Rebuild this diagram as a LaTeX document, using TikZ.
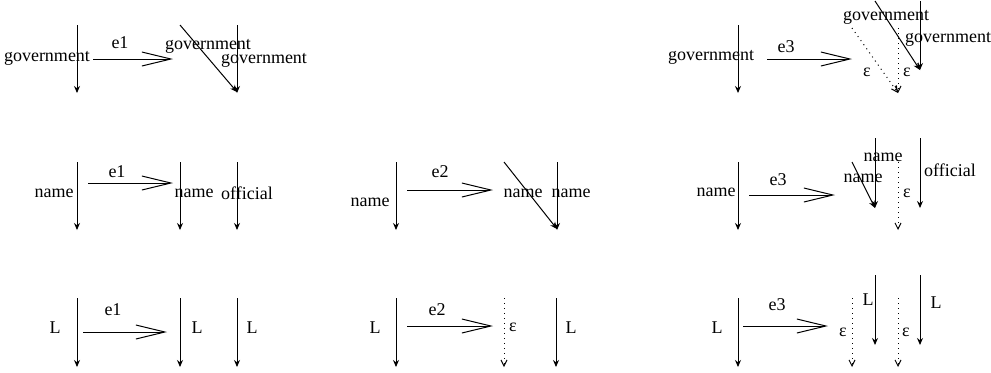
\documentclass[tikz,border=0pt]{standalone}
\usepackage{fontspec}
\setmainfont{Liberation Serif}
\usepackage{tikz}
\usetikzlibrary{arrows.meta}
\usetikzlibrary{positioning}
\tikzstyle{trace} = [-{Stealth[length=3.5pt, width=3pt]}, line width=0.5pt]
\tikzstyle{hole} = [dotted, -{Straight Barb[length=3pt, width=3pt]}, line width=0.5pt]
\tikzstyle{xfer} = [-{Straight Barb[length=14.5pt, width=7pt]}, line width=0.5pt]
\tikzstyle{lbl} = [draw=none, inner sep = 0]

\begin{document}
\begin{tikzpicture}[x=0.5pt, y=-0.5pt, font=\fontsize{9}{11}\selectfont]
\useasboundingbox (0,0) rectangle (991,372);
%% row 1: government
\node [lbl] (gA1) at (47, 58) {government};
\node [lbl] (gA2) at (208, 46) {government};
\node [lbl] (gA3) at (264, 60) {government};
\node [lbl] (eA1) at (120, 43) {e1};
\coordinate (a1s) at (77, 25);  \coordinate (a1e) at (77, 93);
\coordinate (a1x) at (93, 59);  \coordinate (a1y) at (173, 59);
\coordinate (a1d) at (180, 25); \coordinate (a1f) at (237, 92);
\coordinate (a1u) at (237, 25); \coordinate (a1v) at (237, 93);
\draw [trace] (a1s) to (a1e);
\draw [xfer] (a1x) to (a1y);
\draw [trace] (a1d) to (a1f);
\draw [trace] (a1u) to (a1v);

\node [lbl] (gC1) at (711, 57) {government};
\node [lbl] (gC2) at (886, 17) {government};
\node [lbl] (gC3) at (948, 39) {government};
\node [lbl] (eC1) at (786, 47) {e3};
\node [lbl] (zC1) at (867, 72) {ε};
\node [lbl] (zC2) at (907, 72) {ε};
\coordinate (c1s) at (738, 25); \coordinate (c1e) at (738, 93);
\coordinate (c1x) at (767, 59); \coordinate (c1y) at (852, 59);
\coordinate (c1d) at (875, 1);  \coordinate (c1f) at (920, 70);
\coordinate (c1u) at (920, 1);  \coordinate (c1v) at (920, 70);
\coordinate (c1p) at (852, 28); \coordinate (c1q) at (898, 93);
\coordinate (c1m) at (898, 28); \coordinate (c1n) at (898, 93);
\draw [trace] (c1s) to (c1e);
\draw [xfer] (c1x) to (c1y);
\draw [trace] (c1d) to (c1f);
\draw [trace] (c1u) to (c1v);
\draw [hole] (c1p) to (c1q);
\draw [hole] (c1m) to (c1n);

%% row 2: name
\node [lbl] (nA1) at (54, 193) {name};
\node [lbl] (nA2) at (194, 193) {name};
\node [lbl] (oA1) at (247, 193) {official};
\node [lbl] (eA2) at (117, 172) {e1};
\coordinate (a2s) at (77, 162);  \coordinate (a2e) at (77, 230);
\coordinate (a2x) at (88, 183);  \coordinate (a2y) at (173, 183);
\coordinate (a2u) at (180, 162); \coordinate (a2v) at (180, 230);
\coordinate (a2m) at (237, 162); \coordinate (a2n) at (237, 230);
\draw [trace] (a2s) to (a2e);
\draw [xfer] (a2x) to (a2y);
\draw [trace] (a2u) to (a2v);
\draw [trace] (a2m) to (a2n);

\node [lbl] (nB1) at (370, 202) {name};
\node [lbl] (nB2) at (523, 193) {name};
\node [lbl] (nB3) at (571, 193) {name};
\node [lbl] (eB2) at (440, 172) {e2};
\coordinate (b2s) at (396, 162); \coordinate (b2e) at (396, 230);
\coordinate (b2x) at (407, 190); \coordinate (b2y) at (493, 190);
\coordinate (b2d) at (504, 162); \coordinate (b2f) at (557, 229);
\coordinate (b2u) at (557, 162); \coordinate (b2v) at (557, 230);
\draw [trace] (b2s) to (b2e);
\draw [xfer] (b2x) to (b2y);
\draw [trace] (b2d) to (b2f);
\draw [trace] (b2u) to (b2v);

\node [lbl] (nC1) at (716, 192) {name};
\node [lbl] (nC2) at (883, 157) {name};
\node [lbl] (nC3) at (863, 178) {name};
\node [lbl] (oC1) at (950, 170) {official};
\node [lbl] (eC2) at (778, 180) {e3};
\node [lbl] (zC3) at (907, 193) {ε};
\coordinate (c2s) at (738, 162); \coordinate (c2e) at (738, 230);
\coordinate (c2x) at (749, 195); \coordinate (c2y) at (835, 195);
\coordinate (c2u) at (875, 138); \coordinate (c2v) at (875, 208);
\coordinate (c2d) at (852, 162);
\coordinate (c2p) at (898, 162); \coordinate (c2q) at (898, 230);
\coordinate (c2m) at (920, 138); \coordinate (c2n) at (920, 208);
\draw [trace] (c2s) to (c2e);
\draw [xfer] (c2x) to (c2y);
\draw [trace] (c2u) to (c2v);
\draw [trace] (c2d) to (c2v);
\draw [hole] (c2p) to (c2q);
\draw [trace] (c2m) to (c2n);

%% row 3: L
\node [lbl] (lA1) at (55, 328) {L};
\node [lbl] (lA2) at (197, 328) {L};
\node [lbl] (lA3) at (252, 328) {L};
\node [lbl] (eA3) at (113, 310) {e1};
\coordinate (a3s) at (77, 298);  \coordinate (a3e) at (77, 367);
\coordinate (a3x) at (83, 332);  \coordinate (a3y) at (167, 332);
\coordinate (a3u) at (180, 298); \coordinate (a3v) at (180, 367);
\coordinate (a3m) at (237, 298); \coordinate (a3n) at (237, 367);
\draw [trace] (a3s) to (a3e);
\draw [xfer] (a3x) to (a3y);
\draw [trace] (a3u) to (a3v);
\draw [trace] (a3m) to (a3n);

\node [lbl] (lB1) at (375, 328) {L};
\node [lbl] (lB2) at (571, 328) {L};
\node [lbl] (eB3) at (437, 310) {e2};
\node [lbl] (zB1) at (513, 327) {ε};
\coordinate (b3s) at (396, 298); \coordinate (b3e) at (396, 367);
\coordinate (b3x) at (407, 326); \coordinate (b3y) at (493, 326);
\coordinate (b3p) at (504, 298); \coordinate (b3q) at (504, 367);
\coordinate (b3u) at (556, 298); \coordinate (b3v) at (556, 367);
\draw [trace] (b3s) to (b3e);
\draw [xfer] (b3x) to (b3y);
\draw [hole] (b3p) to (b3q);
\draw [trace] (b3u) to (b3v);

\node [lbl] (lC1) at (717, 328) {L};
\node [lbl] (lC2) at (868, 300) {L};
\node [lbl] (lC3) at (936, 303) {L};
\node [lbl] (eC3) at (777, 305) {e3};
\node [lbl] (zC4) at (843, 332) {ε};
\node [lbl] (zC5) at (906, 332) {ε};
\coordinate (c3s) at (738, 298); \coordinate (c3e) at (738, 367);
\coordinate (c3x) at (743, 326); \coordinate (c3y) at (828, 326);
\coordinate (c3p) at (852, 298); \coordinate (c3q) at (852, 367);
\coordinate (c3u) at (875, 275); \coordinate (c3v) at (875, 345);
\coordinate (c3m) at (898, 298); \coordinate (c3n) at (898, 367);
\coordinate (c3g) at (920, 275); \coordinate (c3h) at (920, 345);
\draw [trace] (c3s) to (c3e);
\draw [xfer] (c3x) to (c3y);
\draw [hole] (c3p) to (c3q);
\draw [trace] (c3u) to (c3v);
\draw [hole] (c3m) to (c3n);
\draw [trace] (c3g) to (c3h);
\end{tikzpicture}
\end{document}
